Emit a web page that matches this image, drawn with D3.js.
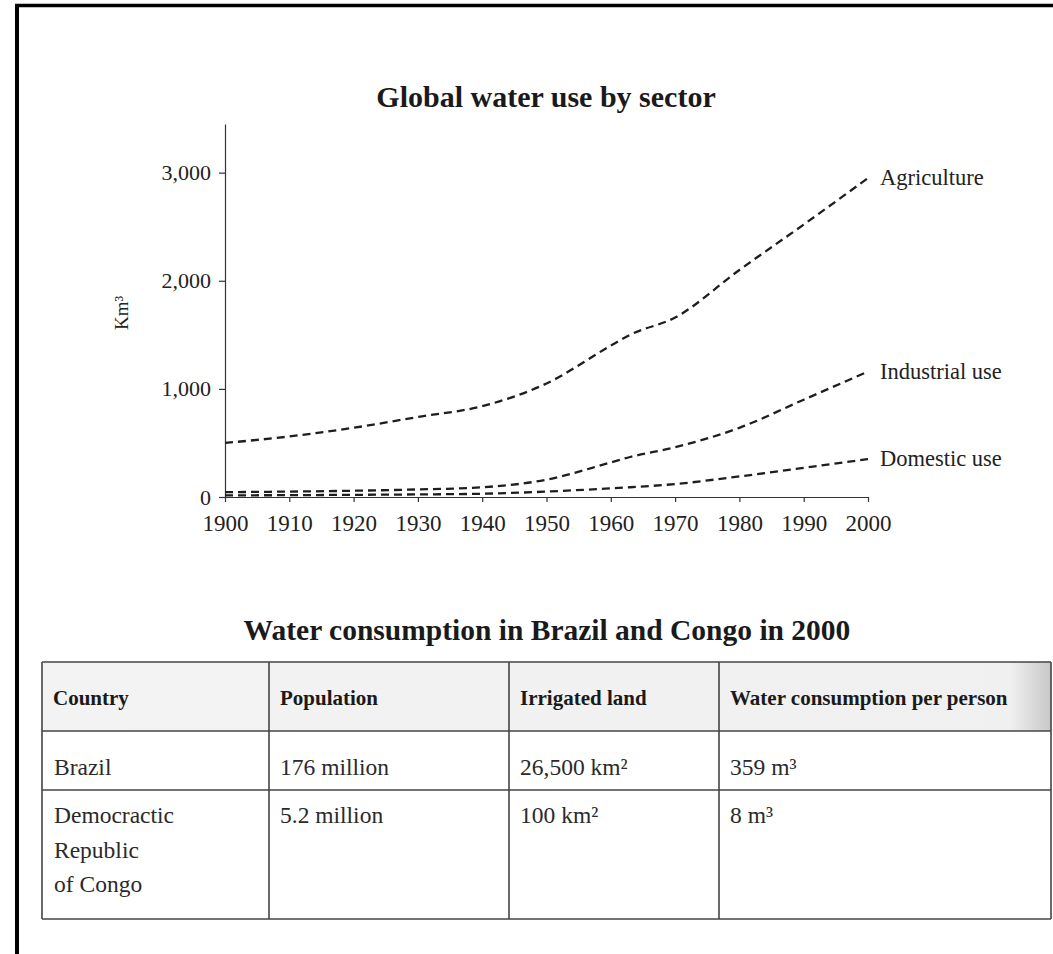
<!DOCTYPE html>
<html>
<head>
<meta charset="utf-8">
<script src="https://cdn.jsdelivr.net/npm/d3@7"></script>
<style>
  html, body { margin: 0; padding: 0; background: #fff; }
  svg { display: block; font-family: "Liberation Serif", "Times New Roman", serif; }
</style>
</head>
<body>
<svg id="chart" width="1053" height="954"></svg>
<script>
// global water use by sector (km3)
const years = [1900, 1910, 1920, 1930, 1940, 1950, 1960, 1963, 1970, 1980, 1990, 2000];
const agriculture = [500, 560, 640, 740, 840, 1050, 1400, 1500, 1660, 2100, 2520, 2950];
const industrial = [45, 50, 58, 70, 90, 160, 320, 370, 460, 640, 900, 1160];
const domestic = [15, 17, 20, 24, 30, 50, 80, 90, 120, 190, 270, 350];
const seriesNames = ['Agriculture', 'Industrial use', 'Domestic use'];
const yTicks = [0, 1000, 2000, 3000];
const xTicks = [1900, 1910, 1920, 1930, 1940, 1950, 1960, 1970, 1980, 1990, 2000];

// table
const tableHeader = ['Country', 'Population', 'Irrigated land', 'Water consumption per person'];
const countries = [['Brazil'], ['Democractic', 'Republic', 'of Congo']];
const population = ['176 million', '5.2 million'];
const irrigated = ['26,500 km²', '100 km²'];
const perPerson = ['359 m³', '8 m³'];

const svg = d3.select('#chart');

// page frame (top + left edges only)
svg.append('line').attr('x1', 15).attr('y1', 5.5).attr('x2', 1053).attr('y2', 5.5)
    .attr('stroke', '#000').attr('stroke-width', 3.5);
svg.append('line').attr('x1', 17).attr('y1', 4).attr('x2', 17).attr('y2', 954)
    .attr('stroke', '#000').attr('stroke-width', 4);

const x = d3.scaleLinear().domain([1900, 2000]).range([225, 868]);
const y = d3.scaleLinear().domain([0, 3450]).range([497, 124]);

svg.append('text')
    .attr('x', 546).attr('y', 107)
    .attr('text-anchor', 'middle')
    .attr('font-size', 30).attr('font-weight', 'bold')
    .attr('fill', '#1a1a1a')
    .text('Global water use by sector');

const yAxis = svg.append('g')
    .attr('transform', 'translate(225,0)')
    .call(d3.axisLeft(y).tickValues(yTicks).tickFormat(d3.format(',')).tickSize(6).tickSizeOuter(0).tickPadding(8));
const xAxis = svg.append('g')
    .attr('transform', 'translate(0,497)')
    .call(d3.axisBottom(x).tickValues(xTicks).tickFormat(d3.format('d')).tickSize(5).tickSizeOuter(0).tickPadding(13));

[yAxis, xAxis].forEach(g => {
    g.select('.domain').attr('stroke', '#333').attr('stroke-width', 1.2);
    g.selectAll('.tick line').attr('stroke', '#333').attr('stroke-width', 1.2);
    g.selectAll('.tick text').attr('fill', '#222').attr('font-size', 22)
        .attr('font-family', '"Liberation Serif", "Times New Roman", serif');
});
xAxis.selectAll('.tick text').attr('font-size', 23);

svg.append('text')
    .attr('transform', 'translate(128,313) rotate(-90)')
    .attr('text-anchor', 'middle')
    .attr('font-size', 19).attr('fill', '#222')
    .text('Km³');

const line = d3.line()
    .x((d, i) => x(years[i]))
    .y(d => y(d))
    .curve(d3.curveMonotoneX);

const series = [agriculture, industrial, domestic];
svg.selectAll('path.series')
    .data(series)
    .enter()
    .append('path')
    .attr('class', 'series')
    .attr('d', d => line(d))
    .attr('fill', 'none')
    .attr('stroke', '#1e1e1e')
    .attr('stroke-width', 2.3)
    .attr('stroke-dasharray', '8,5');

svg.selectAll('text.series-label')
    .data(series)
    .enter()
    .append('text')
    .attr('class', 'series-label')
    .attr('x', x(2000) + 12)
    .attr('y', d => y(d[d.length - 1]) + 7)
    .attr('font-size', 22.5).attr('fill', '#222')
    .text((d, i) => seriesNames[i]);

// table
svg.append('text')
    .attr('x', 547).attr('y', 640)
    .attr('text-anchor', 'middle')
    .attr('font-size', 29.5).attr('font-weight', 'bold')
    .attr('fill', '#1a1a1a')
    .text('Water consumption in Brazil and Congo in 2000');

const colX = [42, 269, 509, 719, 1051];
const rowY = [662, 731, 790, 919];

const defs = svg.append('defs');
const grad = defs.append('linearGradient').attr('id', 'hdr').attr('x1', 0).attr('x2', 1);
grad.append('stop').attr('offset', '0%').attr('stop-color', '#f3f3f3');
grad.append('stop').attr('offset', '96%').attr('stop-color', '#f0f0f0');
grad.append('stop').attr('offset', '100%').attr('stop-color', '#c8c8c8');

svg.append('rect')
    .attr('x', colX[0]).attr('y', rowY[0])
    .attr('width', colX[4] - colX[0]).attr('height', rowY[1] - rowY[0])
    .attr('fill', 'url(#hdr)');

rowY.forEach(ry => {
    svg.append('line').attr('x1', colX[0]).attr('x2', colX[4]).attr('y1', ry).attr('y2', ry)
        .attr('stroke', '#444').attr('stroke-width', 1.6);
});
colX.forEach(cx => {
    svg.append('line').attr('x1', cx).attr('x2', cx).attr('y1', rowY[0]).attr('y2', rowY[3])
        .attr('stroke', '#444').attr('stroke-width', 1.6);
});

svg.selectAll('text.hdr')
    .data(tableHeader)
    .enter()
    .append('text')
    .attr('class', 'hdr')
    .attr('x', (d, i) => colX[i] + 11)
    .attr('y', 705)
    .attr('font-size', 21).attr('font-weight', 'bold').attr('fill', '#1a1a1a')
    .text(d => d);

const rowBase = [775, 823];
const cols = [population, irrigated, perPerson];

countries.forEach((lines, r) => {
    lines.forEach((t, k) => {
        svg.append('text')
            .attr('x', colX[0] + 12).attr('y', rowBase[r] + k * 34.5)
            .attr('font-size', 23.5).attr('fill', '#2a2a2a')
            .text(t);
    });
    cols.forEach((col, c) => {
        svg.append('text')
            .attr('x', colX[c + 1] + 11).attr('y', rowBase[r])
            .attr('font-size', 23.5).attr('fill', '#2a2a2a')
            .text(col[r]);
    });
});
</script>
</body>
</html>
